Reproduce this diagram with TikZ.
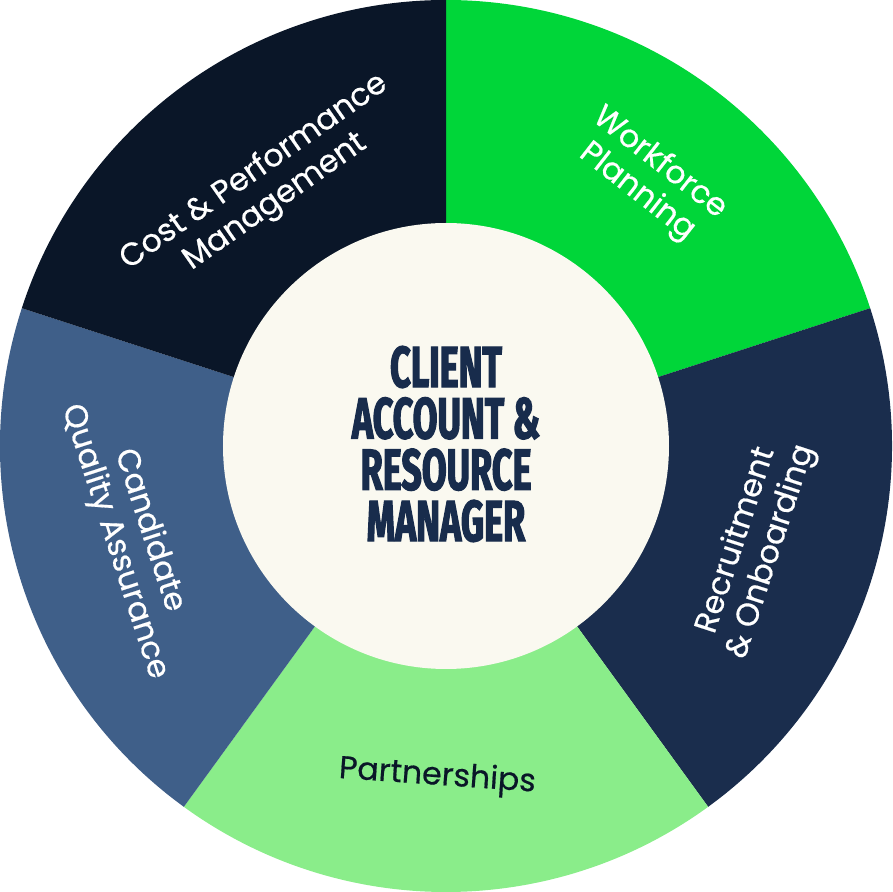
\documentclass[tikz,border=0pt]{standalone}
\usepackage{fontspec}
\usepackage{xcolor}
\setmainfont{Poppins}
\newfontfamily\segfont{Poppins}[FakeBold=0.5]
\newfontfamily\hubfont{Fira Sans}[FakeStretch=0.62,FakeBold=2]
\usetikzlibrary{positioning}
\definecolor{wfgreen}{HTML}{00D639}
\definecolor{recnavy}{HTML}{1A2D4D}
\definecolor{partgreen}{HTML}{8AED8A}
\definecolor{cqblue}{HTML}{3F5F89}
\definecolor{costdark}{HTML}{0A1628}
\definecolor{hubcream}{HTML}{FAF9F0}
\definecolor{hubtext}{HTML}{182C4C}

\begin{document}
\begin{tikzpicture}[label/.style={align=center, text=white, font=\segfont\fontsize{9}{10.4}\selectfont}]
  \useasboundingbox (-4.46,-4.46) rectangle (4.46,4.46);
  % the five wedges
  \foreach \a/\c in {18/wfgreen, -54/recnavy, -126/partgreen, 162/cqblue, 90/costdark}
    \fill[\c] (0,0) -- (\a:4.46) arc[start angle=\a, delta angle=72, radius=4.46] -- cycle;
  \fill[hubcream] (0,0) circle (2.23);
  \node (hub) at (0,0.02) [align=center, text=hubtext, font=\hubfont\bfseries\fontsize{16.5}{14.6}\selectfont] {CLIENT\\ACCOUNT \&\\RESOURCE\\MANAGER};
  \node (workforce) at (53:3.36) [label, rotate=-38] {Workforce\\Planning};
  \node (recruit) at (-18:3.24) [label, rotate=72] {Recruitment\\\& Onboarding};
  \node (partner) at (-91.5:3.31) [label, rotate=-4, text=costdark] {Partnerships};
  \node (quality) at (196:3.27) [label, rotate=-72] {Candidate\\Quality Assurance};
  \node (cost) at (125:3.16) [label, rotate=35] {Cost \& Performance\\Management};
\end{tikzpicture}
\end{document}
